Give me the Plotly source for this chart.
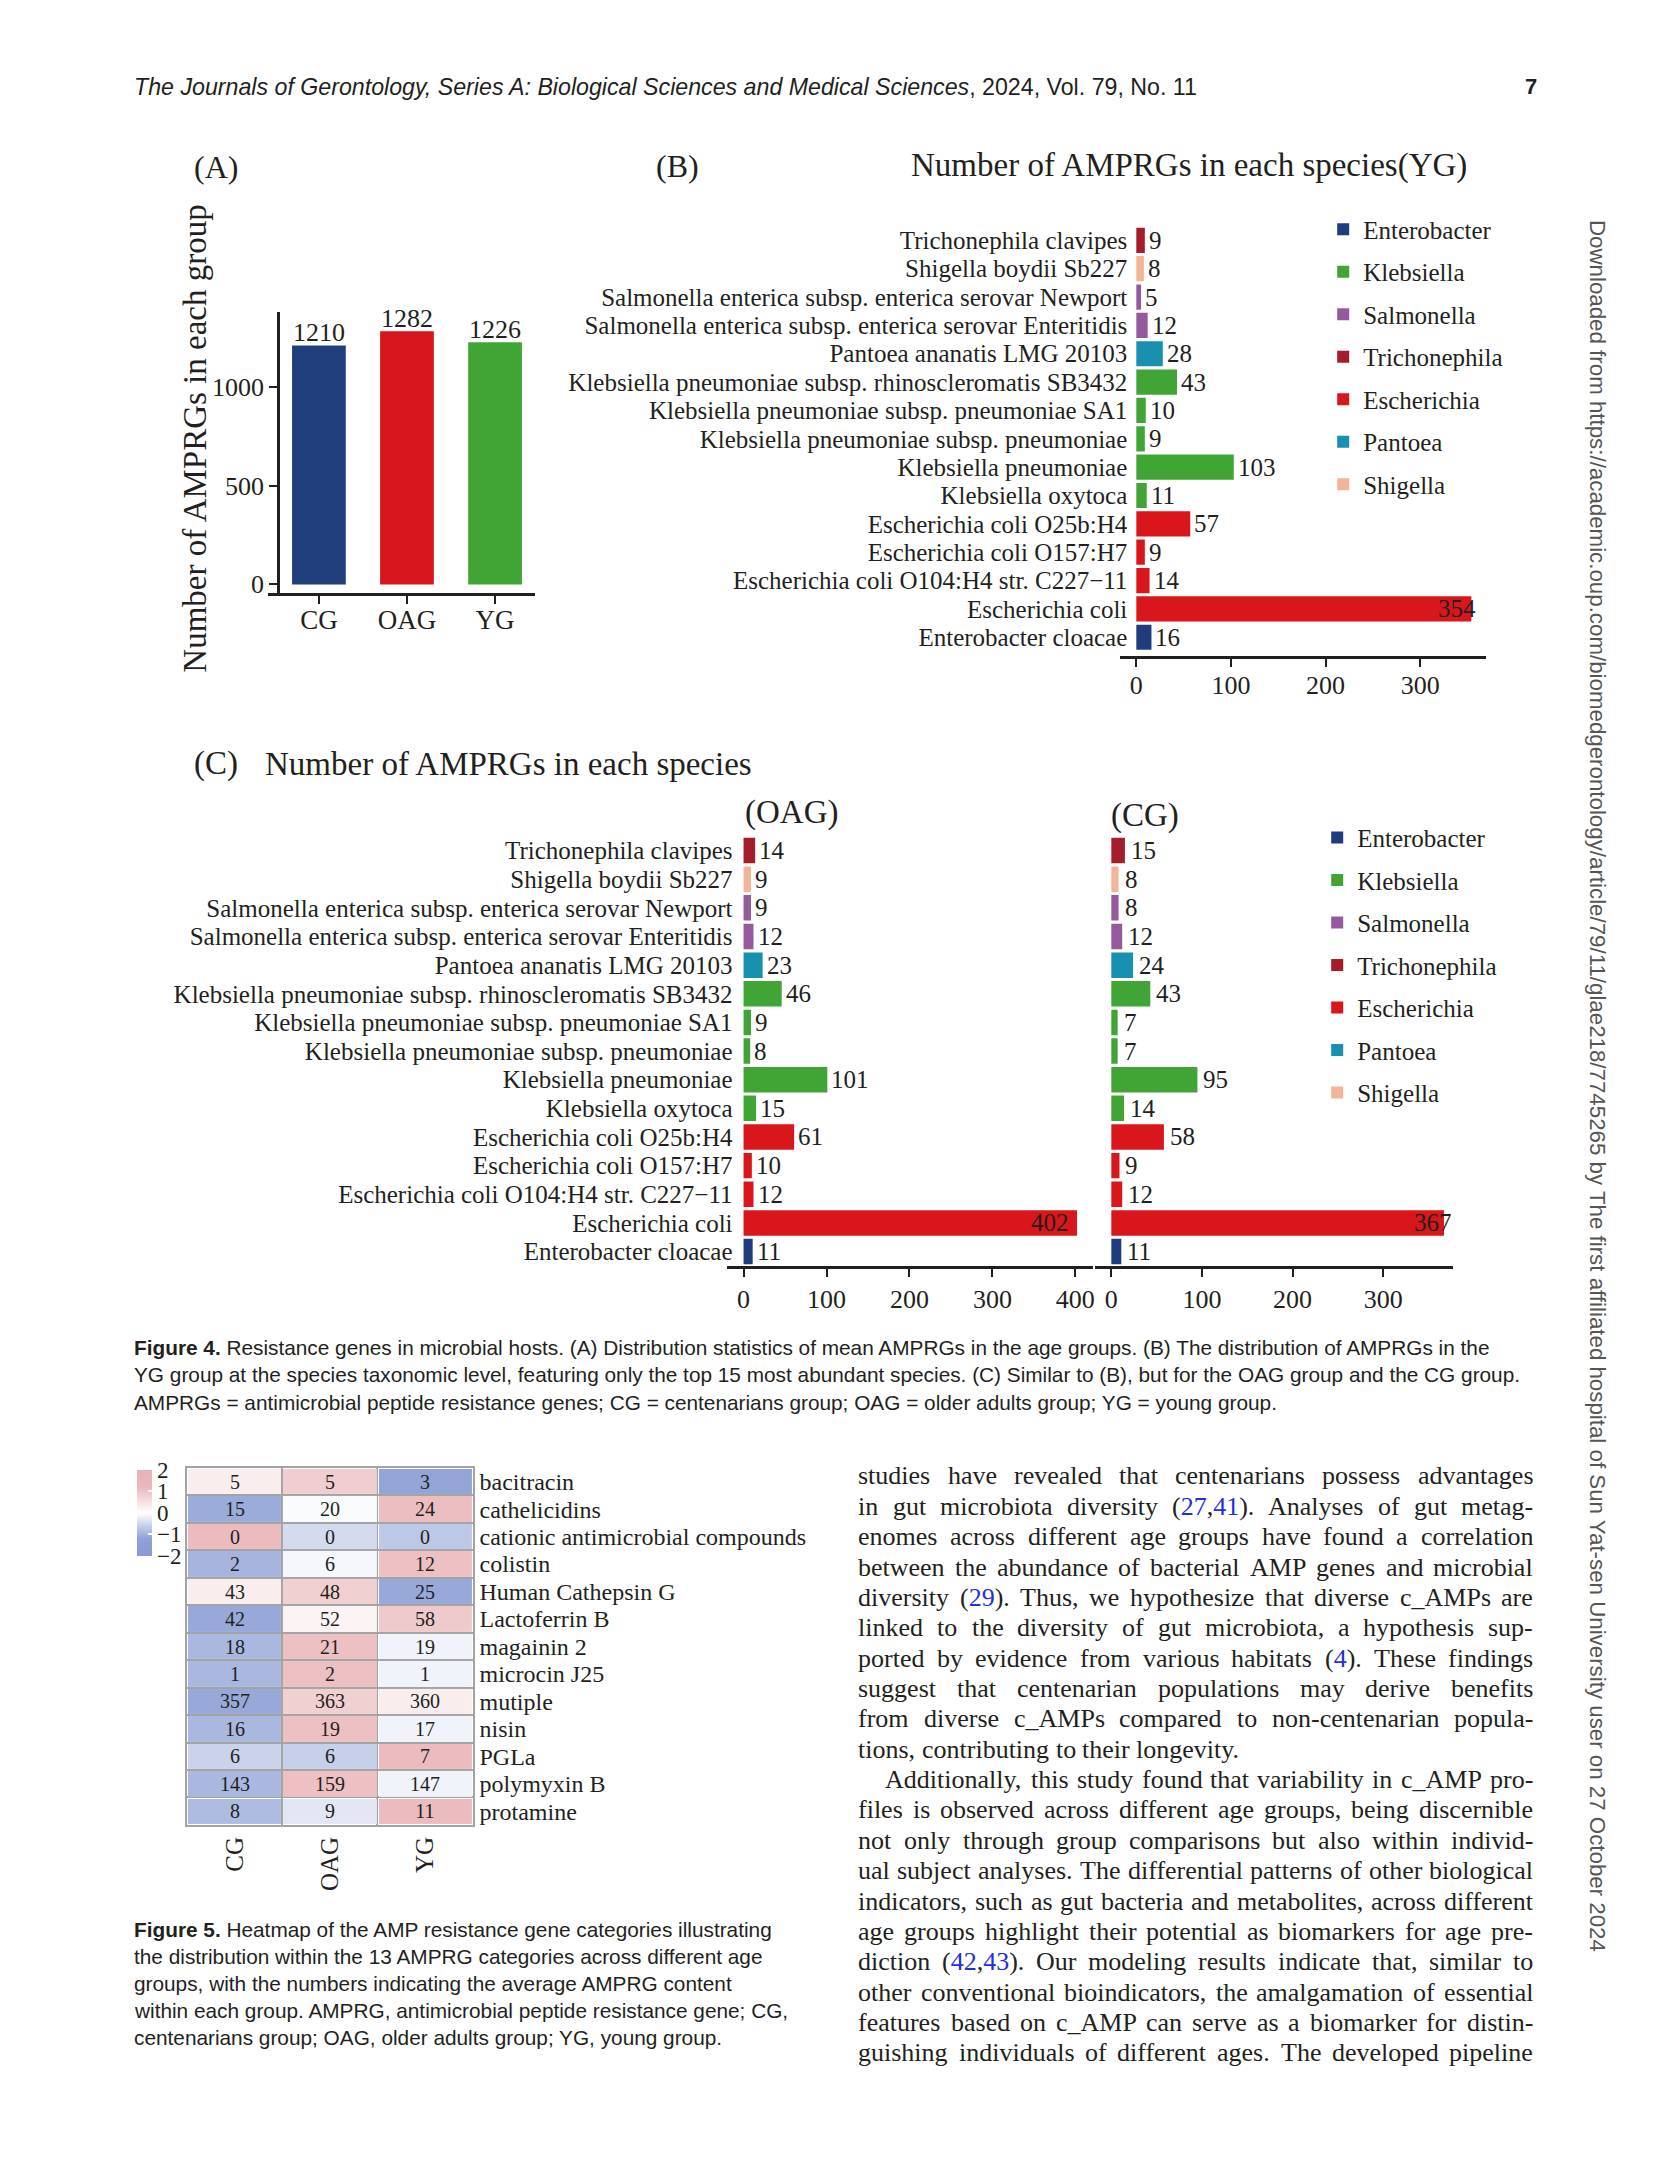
import plotly.graph_objects as go

W, H = 1654, 2173
SERIF = "Liberation Serif"
SANS = "Liberation Sans"
INK = "#231f20"

# ---------------- data ----------------
# Panel A
groups = ["CG", "OAG", "YG"]
group_totals = [1210, 1282, 1226]
group_colors = ["#203d7c", "#d7151c", "#41a535"]

# Panels B / C (species listed bottom -> top)
species = [
    "Enterobacter cloacae",
    "Escherichia coli",
    "Escherichia coli O104:H4 str. C227\u221211",
    "Escherichia coli O157:H7",
    "Escherichia coli O25b:H4",
    "Klebsiella oxytoca",
    "Klebsiella pneumoniae",
    "Klebsiella pneumoniae subsp. pneumoniae",
    "Klebsiella pneumoniae subsp. pneumoniae SA1",
    "Klebsiella pneumoniae subsp. rhinoscleromatis SB3432",
    "Pantoea ananatis LMG 20103",
    "Salmonella enterica subsp. enterica serovar Enteritidis",
    "Salmonella enterica subsp. enterica serovar Newport",
    "Shigella boydii Sb227",
    "Trichonephila clavipes",
]
species_genus = [
    "Enterobacter", "Escherichia", "Escherichia", "Escherichia", "Escherichia",
    "Klebsiella", "Klebsiella", "Klebsiella", "Klebsiella", "Klebsiella",
    "Pantoea", "Salmonella", "Salmonella", "Shigella", "Trichonephila",
]
yg_counts = [16, 354, 14, 9, 57, 11, 103, 9, 10, 43, 28, 12, 5, 8, 9]
oag_counts = [11, 402, 12, 10, 61, 15, 101, 8, 9, 46, 23, 12, 9, 9, 14]
cg_counts = [11, 367, 12, 9, 58, 14, 95, 7, 7, 43, 24, 12, 8, 8, 15]

genera = ["Enterobacter", "Klebsiella", "Salmonella", "Trichonephila",
          "Escherichia", "Pantoea", "Shigella"]
genus_colors = ["#1f3d7d", "#40a535", "#955a9d", "#a51d2a",
                "#d8161c", "#1990b0", "#f3b597"]

# Heatmap (Figure 5)
amp_categories = ["bacitracin", "cathelicidins", "cationic antimicrobial compounds",
                  "colistin", "Human Cathepsin G", "Lactoferrin B", "magainin 2",
                  "microcin J25", "mutiple", "nisin", "PGLa", "polymyxin B", "protamine"]
avg_cg = [5, 15, 0, 2, 43, 42, 18, 1, 357, 16, 6, 143, 8]
avg_oag = [5, 20, 0, 6, 48, 52, 21, 2, 363, 19, 6, 159, 9]
avg_yg = [3, 24, 0, 12, 25, 58, 19, 1, 360, 17, 7, 147, 11]
z_cg = [0.3, -1.05, 1.15, -0.95, 0.3, -1.1, -0.9, -0.9, -1.1, -0.9, -0.55, -0.9, -0.85]
z_oag = [0.85, -0.05, -0.45, -0.1, 0.8, 0.2, 1.05, 1.05, 0.8, 1.05, -0.6, 1.05, -0.3]
z_yg = [-1.15, 1.1, -0.7, 1.05, -1.1, 0.9, -0.15, -0.15, 0.3, -0.15, 1.15, -0.15, 1.15]
colorbar_ticks = [-2, -1, 0, 1, 2]
colorbar_labels = ["\u22122", "\u22121", "0", "1", "2"]

# ---------------- helpers ----------------
def px(x):
    return x / W


def py(y):
    return 1 - y / H


annotations = []


def ann(text, x, y, size, family=SERIF, xanchor="center", yanchor="middle",
        angle=0, color=INK, xref="paper", yref="paper", xshift=0, yshift=0):
    annotations.append(dict(
        text=text, x=px(x) if xref == "paper" else x, y=py(y) if yref == "paper" else y,
        xref=xref, yref=yref, xanchor=xanchor, yanchor=yanchor, showarrow=False,
        textangle=angle, font=dict(family=family, size=size, color=color),
        xshift=xshift, yshift=yshift, borderpad=0, borderwidth=0))


fig = go.Figure()

# ---------------- Panel A ----------------
fig.add_trace(go.Bar(x=groups, y=group_totals, marker=dict(color=group_colors, line=dict(width=0)),
                     width=0.61, xaxis="x", yaxis="y", showlegend=False))
for g, v in zip(groups, group_totals):
    ann(str(v), g, v, 26, xref="x", yref="y", yanchor="bottom", yshift=-2)

ann("(A)", 216, 167, 32)
ann("Number of AMPRGs in each group", 195, 440, 33, angle=-90)

# ---------------- Panel B / C bars ----------------
panels = [
    (yg_counts, "x2", "y2", "legend", 4, 5),
    (oag_counts, "x3", "y3", None, 4, -8),
    (cg_counts, "x4", "y4", "legend2", 6, 8),
]
for counts, xa, ya, leg, shift, maxshift in panels:
    for g, col in zip(genera, genus_colors):
        idx = [i for i, s in enumerate(species_genus) if s == g]
        tr = dict(x=[counts[i] for i in idx], y=[species[i] for i in idx], orientation="h",
                  marker=dict(color=col, line=dict(width=0)), width=0.89,
                  xaxis=xa, yaxis=ya, name=g, legendgroup=g,
                  showlegend=leg is not None)
        if leg is not None:
            tr["legend"] = leg
        fig.add_trace(go.Bar(**tr))
    mx = max(counts)
    for s, v in zip(species, counts):
        if v == mx:
            ann(str(v), v, s, 25, xref=xa, yref=ya, xanchor="right", xshift=maxshift)
        else:
            ann(str(v), v, s, 25, xref=xa, yref=ya, xanchor="left", xshift=shift)

ann("(B)", 678, 166, 32)
ann("Number of AMPRGs in each species(YG)", 1190, 166, 33)
ann("(C)", 194, 766, 33, xanchor="left")
ann("Number of AMPRGs in each species", 265, 766, 33, xanchor="left")
ann("(OAG)", 792, 815, 33)
ann("(CG)", 1146, 818, 33)

# ---------------- Heatmap ----------------
zmat = [[z_cg[i], z_oag[i], z_yg[i]] for i in range(len(amp_categories))]
tmat = [[str(avg_cg[i]), str(avg_oag[i]), str(avg_yg[i])] for i in range(len(amp_categories))]
fig.add_trace(go.Heatmap(
    z=zmat, text=tmat, x=list(range(3)), y=list(range(len(amp_categories))),
    texttemplate="%{text}", textfont=dict(family=SERIF, size=20, color=INK),
    xaxis="x5", yaxis="y5", zmin=-2, zmax=2, xgap=2, ygap=2,
    colorscale=[[0, "rgb(137,155,211)"], [0.2, "rgb(142,160,213)"], [0.5, "rgb(255,255,255)"],
                [0.8, "rgb(234,184,188)"], [1, "rgb(231,178,183)"]],
    colorbar=dict(x=px(137), xanchor="left", y=py(1517), yanchor="middle",
                  len=86, lenmode="pixels", thickness=15, thicknessmode="pixels",
                  tickvals=colorbar_ticks, ticktext=colorbar_labels, outlinewidth=0,
                  ticks="inside", tickcolor="white", ticklen=4, tickwidth=2,
                  tickfont=dict(family=SERIF, size=23, color=INK), xpad=0, ypad=0),
))

# ---------------- Captions and page text ----------------
ann("<i>The Journals of Gerontology, Series A: Biological Sciences and Medical Sciences</i>, 2024, Vol. 79, No. 11",
    134, 87, 23.2, family=SANS, xanchor="left")
ann("<b>7</b>", 1538, 87, 22, family=SANS, xanchor="right")

fig4_caption = [
    "<b>Figure 4.</b> Resistance genes in microbial hosts. (A) Distribution statistics of mean AMPRGs in the age groups. (B) The distribution of AMPRGs in the",
    "YG group at the species taxonomic level, featuring only the top 15 most abundant species. (C) Similar to (B), but for the OAG group and the CG group.",
    "AMPRGs = antimicrobial peptide resistance genes; CG = centenarians group; OAG = older adults group; YG = young group.",
]
for i, line in enumerate(fig4_caption):
    ann(line, 134, 1351 + i * 27.5, 20.8, family=SANS, xanchor="left")

fig5_caption = [
    "<b>Figure 5.</b> Heatmap of the AMP resistance gene categories illustrating",
    "the distribution within the 13 AMPRG categories across different age",
    "groups, with the numbers indicating the average AMPRG content",
    "within each group. AMPRG, antimicrobial peptide resistance gene; CG,",
    "centenarians group; OAG, older adults group; YG, young group.",
]
for i, line in enumerate(fig5_caption):
    ann(line, 134, 1935 + i * 27, 20.8, family=SANS, xanchor="left")

ann("Downloaded from https://academic.oup.com/biomedgerontology/article/79/11/glae218/7745265 by The first affiliated hospital of Sun Yat-sen University user on 27 October 2024",
    1598, 1089, 22.3, family=SANS, angle=90, color="#555555")

# justified body text (Times metrics)
TNR = {" ": 250, "!": 333, "(": 333, ")": 333, ",": 250, "-": 333, ".": 250, ":": 278,
       ";": 278, "_": 500, "A": 722, "B": 667, "C": 667, "D": 722, "E": 611, "F": 556,
       "G": 722, "H": 722, "I": 333, "J": 389, "K": 722, "L": 611, "M": 889, "N": 722,
       "O": 722, "P": 556, "Q": 722, "R": 667, "S": 556, "T": 611, "U": 722, "V": 722,
       "W": 944, "X": 722, "Y": 722, "Z": 611, "a": 444, "b": 500, "c": 444, "d": 500,
       "e": 444, "f": 333, "g": 500, "h": 500, "i": 278, "j": 278, "k": 500, "l": 278,
       "m": 778, "n": 500, "o": 500, "p": 500, "q": 500, "r": 333, "s": 389, "t": 278,
       "u": 500, "v": 500, "w": 722, "x": 500, "y": 500, "z": 444}


def tw(s, size):
    return sum(TNR.get(ch, 500) for ch in s) / 1000 * size


body_lines = [
    ("studies have revealed that centenarians possess advantages", True, 0),
    ("in gut microbiota diversity (27,41). Analyses of gut metag-", True, 0),
    ("enomes across different age groups have found a correlation", True, 0),
    ("between the abundance of bacterial AMP genes and microbial", True, 0),
    ("diversity (29). Thus, we hypothesize that diverse c_AMPs are", True, 0),
    ("linked to the diversity of gut microbiota, a hypothesis sup-", True, 0),
    ("ported by evidence from various habitats (4). These findings", True, 0),
    ("suggest that centenarian populations may derive benefits", True, 0),
    ("from diverse c_AMPs compared to non-centenarian popula-", True, 0),
    ("tions, contributing to their longevity.", False, 0),
    ("Additionally, this study found that variability in c_AMP pro-", True, 27),
    ("files is observed across different age groups, being discernible", True, 0),
    ("not only through group comparisons but also within individ-", True, 0),
    ("ual subject analyses. The differential patterns of other biological", True, 0),
    ("indicators, such as gut bacteria and metabolites, across different", True, 0),
    ("age groups highlight their potential as biomarkers for age pre-", True, 0),
    ("diction (42,43). Our modeling results indicate that, similar to", True, 0),
    ("other conventional bioindicators, the amalgamation of essential", True, 0),
    ("features based on c_AMP can serve as a biomarker for distin-", True, 0),
    ("guishing individuals of different ages. The developed pipeline", True, 0),
]
BODY = 26
LEFT, RIGHT = 859, 1534


def word_html(w):
    if w.startswith("(") and any(ch.isdigit() for ch in w):
        core = w
        trail = ""
        while core and core[-1] in ".,;":
            trail = core[-1] + trail
            core = core[:-1]
        inner = core[1:-1].split(",")
        inner_html = ",".join(f"<span style='color:#1f2ee0'>{n}</span>" for n in inner)
        return "(" + inner_html + ")" + trail
    return w


for i, (line, justify, indent) in enumerate(body_lines):
    y = 1480 + i * 30.45
    words = line.split(" ")
    widths = [tw(w, BODY) for w in words]
    x0 = LEFT + indent
    if justify and len(words) > 1:
        gap = (RIGHT - x0 - sum(widths)) / (len(words) - 1)
    else:
        gap = tw(" ", BODY)
    x = x0
    for w, wd in zip(words, widths):
        ann(word_html(w), x, y, BODY, xanchor="left")
        x += wd + gap

# ---------------- layout ----------------
axis_font = dict(family=SERIF, size=26, color=INK)
line_kw = dict(showline=True, linecolor=INK, linewidth=2.5, ticks="outside", ticklen=8,
               tickwidth=2, tickcolor=INK, showgrid=False, zeroline=False)
cat_kw = dict(categoryorder="array", categoryarray=species, tickmode="array",
              tickvals=species, ticktext=species, showline=False, ticks="",
              showgrid=False, zeroline=False)

fig.update_layout(
    width=W, height=H, margin=dict(l=0, r=0, t=0, b=0),
    paper_bgcolor="white", plot_bgcolor="white", barmode="overlay",
    font=dict(family=SERIF, color=INK),
    annotations=annotations,
    # Panel A
    xaxis=dict(domain=[px(268), px(535)], anchor="y", type="category", range=[-0.58, 2.45],
               tickfont=dict(family=SERIF, size=27, color=INK), ticklabelstandoff=-8, **line_kw),
    yaxis=dict(domain=[py(595), py(313)], anchor="free", position=px(278), range=[-45.5, 1379],
               tickvals=[0, 500, 1000], tickfont=axis_font, **line_kw),
    # Panel B
    xaxis2=dict(domain=[px(1121), px(1487)], anchor="y2", range=[-16.9, 369.6],
                tickvals=[0, 100, 200, 300], tickfont=axis_font, ticklabelstandoff=-4, **line_kw),
    yaxis2=dict(domain=[py(658), py(225)], anchor="free", position=px(1128),
                range=[-0.668, 14.563], tickfont=dict(family=SERIF, size=25, color=INK), **cat_kw),
    # Panel C OAG
    xaxis3=dict(domain=[px(727), px(1094)], anchor="y3", range=[-20.48, 421.7],
                tickvals=[0, 100, 200, 300, 400], tickfont=axis_font, **line_kw),
    yaxis3=dict(domain=[py(1270), py(838)], anchor="free", position=px(733),
                range=[-0.522, 14.52], tickfont=dict(family=SERIF, size=25, color=INK), **cat_kw),
    # Panel C CG
    xaxis4=dict(domain=[px(1096), px(1454)], anchor="y4", range=[-17.64, 377.1],
                tickvals=[0, 100, 200, 300], tickfont=axis_font, **line_kw),
    yaxis4=dict(domain=[py(1270), py(838)], anchor="x4", range=[-0.522, 14.52],
                showticklabels=False, **cat_kw),
    # Heatmap
    xaxis5=dict(domain=[px(187), px(473)], anchor="y5", range=[-0.5, 2.5],
                tickvals=[0, 1, 2], ticktext=groups, tickangle=-90,
                tickfont=dict(family=SERIF, size=25, color=INK),
                showline=True, mirror=True, linecolor="#a3a3a3", linewidth=2,
                showgrid=False, zeroline=False, ticks="",
                minor=dict(tick0=-0.5, dtick=1, showgrid=True, gridcolor="#a3a3a3", gridwidth=2)),
    yaxis5=dict(domain=[py(1830), py(1472)], anchor="x5", side="right",
                range=[len(amp_categories) - 0.5, -0.5],
                tickvals=list(range(len(amp_categories))), ticktext=amp_categories,
                tickfont=dict(family=SERIF, size=24, color=INK),
                showline=True, mirror=True, linecolor="#a3a3a3", linewidth=2,
                showgrid=False, zeroline=False, ticks="",
                minor=dict(tick0=-0.5, dtick=1, showgrid=True, gridcolor="#a3a3a3", gridwidth=2)),
    legend=dict(x=px(1324), y=py(207), xanchor="left", yanchor="top", bgcolor="rgba(0,0,0,0)",
                font=dict(family=SERIF, size=25, color=INK), tracegroupgap=7,
                traceorder="grouped"),
    legend2=dict(x=px(1318), y=py(817), xanchor="left", yanchor="top", bgcolor="rgba(0,0,0,0)",
                 font=dict(family=SERIF, size=25, color=INK), tracegroupgap=7,
                 traceorder="grouped"),
)

fig.write_html("out.html", config={"displayModeBar": False},
               post_script="document.body.style.margin='0';document.body.style.overflow='hidden';")
